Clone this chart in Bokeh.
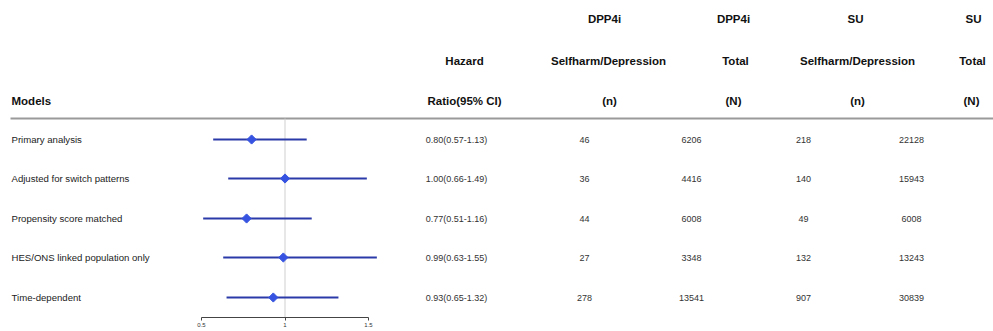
import math
from bokeh.plotting import figure
from bokeh.models import Range1d, LinearAxis, FixedTicker, ColumnDataSource
from bokeh.core.properties import value
from bokeh.embed import file_html
from bokeh.resources import INLINE

# ---- data ----
models = ["Primary analysis", "Adjusted for switch patterns", "Propensity score matched",
          "HES/ONS linked population only", "Time-dependent"]
hr = [0.80, 1.00, 0.77, 0.99, 0.93]
hr_lo = [0.57, 0.66, 0.51, 0.63, 0.65]
hr_hi = [1.13, 1.49, 1.16, 1.55, 1.32]
dpp4i_n = [46, 36, 44, 27, 278]
dpp4i_total = [6206, 4416, 6008, 3348, 13541]
su_n = [218, 140, 49, 132, 907]
su_total = [22128, 15943, 6008, 13243, 30839]
hr_ticks = [0.5, 1, 1.5]
hr_ticklabels = {0.5: "0.5", 1: "1", 1.5: "1.5"}

# ---- layout (image pixel coordinates) ----
W, H = 993, 331
X0, X1 = 0, W
AX_H = 14                      # space taken by bottom axis
Y_TOP, Y_BOT = 0, H - AX_H
row_y = [139, 178, 218, 257, 297]
sep_y = 118

# HR scale: 0.5 at x=201, 1.5 at x=368
px_per = (368 - 201) / 1.0
hr_start = 0.5 + (X0 - 201) / px_per
hr_end = 0.5 + (X1 - 201) / px_per

p = figure(width=W, height=H, output_backend="svg", toolbar_location=None,
           x_range=Range1d(X0, X1), y_range=Range1d(Y_BOT, Y_TOP),
           min_border=0, min_border_bottom=AX_H, min_border_left=0, min_border_right=0,
           min_border_top=0)
p.extra_x_ranges = {"hr": Range1d(hr_start, hr_end)}
p.xaxis.visible = False
p.yaxis.visible = False
p.xgrid.visible = False
p.ygrid.visible = False
p.outline_line_color = None
p.background_fill_color = "white"
p.border_fill_color = "white"

ax = LinearAxis(x_range_name="hr", ticker=FixedTicker(ticks=hr_ticks), bounds=(0.5, 1.5))
ax.major_label_overrides = hr_ticklabels
ax.major_label_text_font = "Liberation Sans"
ax.major_label_text_font_size = "6px"
ax.major_label_text_color = "#333333"
ax.major_label_standoff = 2
ax.major_tick_in = 0
ax.major_tick_out = 3
ax.minor_tick_out = 0
ax.minor_tick_in = 0
ax.axis_line_color = "#444444"
ax.major_tick_line_color = "#444444"
p.add_layout(ax, "below")

FONT = value("Liberation Sans")

# header
def hdr(x, y, t, align="center"):
    p.text(x=[x], y=[y], text=[t], text_font=FONT, text_font_size="11.5px",
           text_font_style="bold", text_align=align, text_baseline="middle",
           text_color="#111111")

hdr(11, 100, "Models", "left")
hdr(464, 60, "Hazard")
hdr(464, 100, "Ratio(95% CI)")
hdr(604, 18, "DPP4i"); hdr(608, 60, "Selfharm/Depression"); hdr(609, 100, "(n)")
hdr(733, 18, "DPP4i"); hdr(735, 60, "Total"); hdr(733, 100, "(N)")
hdr(855, 18, "SU"); hdr(857, 60, "Selfharm/Depression"); hdr(857, 100, "(n)")
hdr(973, 18, "SU"); hdr(972, 60, "Total"); hdr(971, 100, "(N)")

# separator
p.segment(x0=[10], y0=[sep_y], x1=[995], y1=[sep_y], line_color="#9a9a9a", line_width=2)

# reference line at HR = 1
p.segment(x0=[1], y0=[sep_y], x1=[1], y1=[Y_BOT], x_range_name="hr",
          line_color="#cfcfcf", line_width=1)

# rows
src = ColumnDataSource(dict(
    y=row_y, model=models, hr=hr, lo=hr_lo, hi=hr_hi,
    hrtxt=[f"{a:.2f}({b:.2f}-{c:.2f})" for a, b, c in zip(hr, hr_lo, hr_hi)],
    dn=[str(v) for v in dpp4i_n], dt=[str(v) for v in dpp4i_total],
    sn=[str(v) for v in su_n], st=[str(v) for v in su_total],
    xm=[11] * 5, xh=[456] * 5, xdn=[584] * 5, xdt=[691] * 5, xsn=[803] * 5, xst=[911] * 5,
))

p.text(x="xm", y="y", text="model", source=src, text_font=FONT, text_font_size="9.6px",
       text_align="left", text_baseline="middle", text_color="#222222")
for col, xc in [("hrtxt", "xh"), ("dn", "xdn"), ("dt", "xdt"), ("sn", "xsn"), ("st", "xst")]:
    p.text(x=xc, y="y", text=col, source=src, text_font=FONT, text_font_size="9px",
           text_align="center", text_baseline="middle", text_color="#333333")

p.segment(x0="lo", y0="y", x1="hi", y1="y", source=src, x_range_name="hr",
          line_color="#2a3aa8", line_width=2)
p.scatter(x="hr", y="y", source=src, x_range_name="hr", marker="square", size=6.5,
          angle=math.pi / 4, fill_color="#3553e0", line_color="#3553e0")

open("out.html", "w").write(file_html(p, INLINE))
